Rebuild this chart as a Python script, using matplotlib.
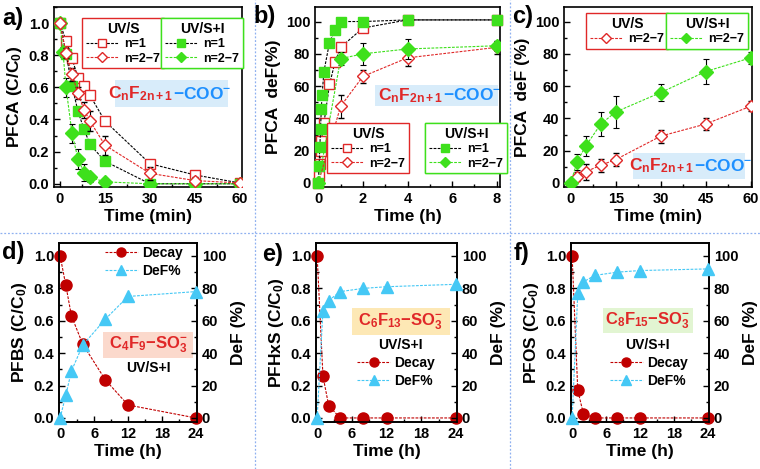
import matplotlib
matplotlib.use("Agg")
import matplotlib.pyplot as plt
from matplotlib.ticker import MultipleLocator, FormatStrFormatter
from matplotlib.patches import Rectangle
from matplotlib.lines import Line2D

plt.rcParams['font.family'] = ['Liberation Sans', 'DejaVu Sans']
plt.rcParams['font.weight'] = 'bold'
plt.rcParams['axes.labelweight'] = 'bold'
plt.rcParams['mathtext.fontset'] = 'custom'
plt.rcParams['mathtext.rm'] = 'Liberation Sans:bold'
plt.rcParams['mathtext.it'] = 'Liberation Sans:bold'
plt.rcParams['mathtext.bf'] = 'Liberation Sans:bold'

# ---- data ----
# a) PFCA decay (min)
a_t = [0, 2, 4, 6, 8, 10, 15, 30, 45, 60]
a_uvs_n1 = [1.0, 0.89, 0.78, 0.66, 0.61, 0.55, 0.39, 0.125, 0.055, 0.005]
a_uvs_n27 = [1.0, 0.815, 0.68, 0.565, 0.46, 0.39, 0.24, 0.065, 0.02, 0.005]
a_uvs_n27_err = [0, 0.03, 0.04, 0.04, 0.05, 0.06, 0.06, 0.04, 0.02, 0.01]
a_uvsi_n1 = [1.0, 0.81, 0.61, 0.45, 0.34, 0.245, 0.14, 0.0, 0.0, 0.0]
a_t2 = [0, 1, 2, 4, 6, 8, 10, 15, 30, 45, 60]
a_uvsi_n27 = [1.0, 0.82, 0.60, 0.315, 0.155, 0.07, 0.04, 0.012, 0.0, 0.0, 0.0]
a_uvsi_n27_err = [0, 0.03, 0.06, 0.06, 0.06, 0.05, 0.03, 0.01, 0, 0, 0]

# b) PFCA defluorination (h)
b_t_si1 = [0, 0.033, 0.067, 0.1, 0.133, 0.167, 0.25, 0.5, 0.75, 1, 2, 4, 8]
b_uvsi_n1 = [0, 10.5, 22.5, 33.5, 46, 54.5, 69, 87, 95, 100, 100, 101, 101]
b_t_s1 = [0, 0.033, 0.067, 0.1, 0.133, 0.25, 0.5, 0.75, 1, 2, 4, 8]
b_uvs_n1 = [0, 4.5, 12, 20, 26, 37, 61, 75, 84, 96, 101, 101]
b_t27 = [0, 1, 2, 4, 8]
b_uvs_n27 = [0, 47.5, 66, 77.5, 84]
b_uvs_n27_err = [0, 7, 4, 5, 4]
b_uvsi_n27 = [0, 77, 80, 83, 85]
b_uvsi_n27_err = [0, 4, 7, 6, 3]

# c) PFCA defluorination n=2-7 (min)
c_t = [0, 2, 5, 10, 15, 30, 45, 60]
c_uvs = [0, 4, 7, 11, 14.5, 29, 36.5, 47.5]
c_uvs_err = [0, 3, 5, 4, 4, 4, 4, 3]
c_uvsi = [0, 13, 23, 36.5, 44, 56, 69, 77.5]
c_uvsi_err = [0, 5, 6, 7.5, 10, 5.5, 7.5, 3.5]

# d-f) PFSA decay and DeF (h)
s_t = [0, 1, 2, 4, 8, 12, 24]
d_decay = [1.0, 0.82, 0.63, 0.455, 0.235, 0.08, 0.0]
d_def = [0, 14, 29, 45, 61, 75, 78]
e_decay = [1.0, 0.26, 0.075, 0.0, 0.0, 0.0, 0.0]
e_def = [0, 66, 72.5, 78, 80, 81, 82.5]
f_decay = [1.0, 0.17, 0.025, 0.0, 0.0, 0.0, 0.0]
f_def = [0, 77, 84, 88, 90, 91, 92]

RED = '#e02828'
GREEN = '#3ee01c'
DRED = '#c00000'
CYAN = '#45c8f5'
BLUE = '#1e90ff'
W, H = 760, 469

fig = plt.figure(figsize=(7.6, 4.69), dpi=100)


def rect(l, t, r, b):
    return [l / W, 1 - b / H, (r - l) / W, (b - t) / H]


def style(ax, xmaj, xmin, ymaj, ymin):
    ax.xaxis.set_major_locator(MultipleLocator(xmaj))
    ax.xaxis.set_minor_locator(MultipleLocator(xmin))
    ax.yaxis.set_major_locator(MultipleLocator(ymaj))
    ax.yaxis.set_minor_locator(MultipleLocator(ymin))
    ax.tick_params(which='both', direction='in', labelsize=10.5, width=1)
    ax.tick_params(which='major', length=4)
    ax.tick_params(which='minor', length=2)
    for s in ax.spines.values():
        s.set_linewidth(1.2)


def formula(ax, x0, x1, y0, y1, split, red_txt, blue_txt, bg, blue=BLUE):
    ax.add_patch(Rectangle((x0, y0), x1 - x0, y1 - y0, transform=ax.transAxes,
                           facecolor=bg, edgecolor='none', zorder=1))
    ym = (y0 + y1) / 2
    ax.text(split, ym, red_txt, color=RED, ha='right', va='center',
            fontsize=12.5, transform=ax.transAxes, zorder=2)
    ax.text(split, ym, blue_txt, color=blue, ha='left', va='center',
            fontsize=12.5, transform=ax.transAxes, zorder=2)


def boxed_legend(ax, handles, labels, title, color, x, y):
    leg = ax.legend(handles, labels, title=title, loc='upper left',
                    bbox_to_anchor=(x, y), borderaxespad=0, fancybox=False,
                    framealpha=1, edgecolor=color, fontsize=9,
                    title_fontsize=10, handlelength=2.6, handletextpad=0.5,
                    labelspacing=0.2, borderpad=0.3, numpoints=1)
    leg.get_frame().set_linewidth(1.0)
    leg.set_zorder(10)
    ax.add_artist(leg)
    return leg


ls = (0, (2.5, 1.2))
ekw = dict(ecolor='black', elinewidth=0.8, capsize=2.5, capthick=0.8)


def handle(color, marker, mfc, ms):
    return Line2D([], [], ls=ls, color=color, lw=0.8, marker=marker, ms=ms,
                  mfc=mfc, mec=mfc if mfc != 'white' else RED, mew=1.0)


hs_s1 = handle('black', 's', 'white', 6)
hs_s27 = handle(RED, 'D', 'white', 5)
hs_i1 = handle('black', 's', GREEN, 6)
hs_i27 = handle(GREEN, 'D', GREEN, 5.5)

MINUS = '\u2212'

# ---------- a ----------
ax = fig.add_axes(rect(54, 7, 242, 187))
ax.plot(a_t, a_uvs_n1, ls=ls, color='black', lw=0.8, marker='s', ms=7.5,
        mfc='white', mec=RED, mew=1.0, zorder=3)
ax.errorbar(a_t, a_uvs_n27, yerr=a_uvs_n27_err, ls=ls, color=RED, lw=0.8,
            marker='D', ms=6.5, mfc='white', mec=RED, mew=1.0, zorder=4, **ekw)
ax.plot(a_t, a_uvsi_n1, ls=ls, color='black', lw=0.8, marker='s', ms=7.5,
        mfc=GREEN, mec=GREEN, zorder=3)
ax.errorbar(a_t2, a_uvsi_n27, yerr=a_uvsi_n27_err, ls=ls, color=GREEN, lw=0.8,
            marker='D', ms=7, mfc=GREEN, mec=GREEN, zorder=3, **ekw)
ax.set_xlim(-2, 60.7)
ax.set_ylim(-0.02, 1.1)
style(ax, 15, 7.5, 0.2, 0.1)
ax.yaxis.set_major_formatter(FormatStrFormatter('%.1f'))
ax.set_xlabel('Time (min)', fontsize=12.5, labelpad=2)
ax.set_ylabel('PFCA (C/C$_0$)', fontsize=12.5, labelpad=3)
boxed_legend(ax, [hs_s1, hs_s27], ['n=1', 'n=2' + MINUS + '7'], 'UV/S', RED, 0.149, 0.939)
boxed_legend(ax, [hs_i1, hs_i27], ['n=1', 'n=2' + MINUS + '7'], 'UV/S+I', GREEN, 0.569, 0.939)
formula(ax, 0.324, 0.926, 0.444, 0.594, 0.633, r'C$_n$F$_{2n+1}$', MINUS + 'COO$^{-}$', '#d8ecfa')

# ---------- b ----------
ax = fig.add_axes(rect(315, 7, 500, 187))
ax.plot(b_t_s1, b_uvs_n1, ls=ls, color='black', lw=0.8, marker='s', ms=7.5,
        mfc='white', mec=RED, mew=1.0, zorder=3, clip_on=False)
ax.errorbar(b_t27, b_uvs_n27, yerr=b_uvs_n27_err, ls=ls, color=RED, lw=0.8,
            marker='D', ms=6.5, mfc='white', mec=RED, mew=1.0, zorder=4, **ekw)
ax.plot(b_t_si1, b_uvsi_n1, ls=ls, color='black', lw=0.8, marker='s', ms=6.5,
        mfc=GREEN, mec=GREEN, zorder=4, clip_on=False)
ax.errorbar(b_t27, b_uvsi_n27, yerr=b_uvsi_n27_err, ls=ls, color=GREEN, lw=0.8,
            marker='D', ms=7, mfc=GREEN, mec=GREEN, zorder=5, **ekw)
ax.set_xlim(-0.15, 8.15)
ax.set_ylim(-2.5, 109)
style(ax, 2, 1, 20, 10)
ax.set_xlabel('Time (h)', fontsize=12.5, labelpad=2)
ax.set_ylabel('PFCA  deF(%)', fontsize=12.5, labelpad=3)
boxed_legend(ax, [hs_s1, hs_s27], ['n=1', 'n=2' + MINUS + '7'], 'UV/S', RED, 0.065, 0.356)
boxed_legend(ax, [hs_i1, hs_i27], ['n=1', 'n=2' + MINUS + '7'], 'UV/S+I', GREEN, 0.595, 0.356)
formula(ax, 0.324, 0.989, 0.45, 0.567, 0.692, r'C$_n$F$_{2n+1}$', MINUS + 'COO$^{-}$', '#d8ecfa')

# ---------- c ----------
ax = fig.add_axes(rect(564, 7, 752, 187))
ax.errorbar(c_t, c_uvs, yerr=c_uvs_err, ls=ls, color=RED, lw=0.8,
            marker='D', ms=6.5, mfc='white', mec=RED, mew=1.0, zorder=4, **ekw)
ax.errorbar(c_t, c_uvsi, yerr=c_uvsi_err, ls=ls, color=GREEN, lw=0.8,
            marker='D', ms=7, mfc=GREEN, mec=GREEN, zorder=4, **ekw)
ax.set_xlim(-2.3, 60.5)
ax.set_ylim(-2.5, 109)
style(ax, 15, 7.5, 20, 10)
ax.set_xlabel('Time (min)', fontsize=12.5, labelpad=2)
ax.set_ylabel('PFCA  deF (%)', fontsize=12.5, labelpad=3)
boxed_legend(ax, [hs_s27], ['n=2' + MINUS + '7'], 'UV/S', RED, 0.117, 0.967)
boxed_legend(ax, [hs_i27], ['n=2' + MINUS + '7'], 'UV/S+I', GREEN, 0.543, 0.967)
formula(ax, 0.367, 0.963, 0.044, 0.189, 0.691, r'C$_n$F$_{2n+1}$', MINUS + 'COO$^{-}$', '#d8ecfa')

# ---------- d-f ----------
panels = [
    (rect(59, 243, 197, 422), d_decay, d_def, 'PFBS (C/C$_0$)', 'C$_4$F$_9$' + MINUS + 'SO$_3^{-}$',
     '#fbd9cc', (0.32, 0.97, 0.358, 0.503, 0.645), 0.30, (0.33, 0.985)),
    (rect(316, 243, 457, 422), e_decay, e_def, 'PFHxS (C/C$_0$)', 'C$_6$F$_{13}$' + MINUS + 'SO$_3^{-}$',
     '#fde8b5', (0.255, 0.95, 0.486, 0.637, 0.60), 0.43, (0.29, 0.37)),
    (rect(571, 243, 709, 422), f_decay, f_def, 'PFOS (C/C$_0$)', 'C$_8$F$_{15}$' + MINUS + 'SO$_3^{-}$',
     '#e2f5d2', (0.232, 0.884, 0.497, 0.637, 0.555), 0.43, (0.28, 0.37)),
]
for r, dec, dfv, ylab, ftxt, bg, box, uy, legpos in panels:
    ax = fig.add_axes(r)
    ax2 = ax.twinx()
    ax.plot(s_t, dec, ls=ls, color=DRED, lw=0.8, marker='o', ms=8,
            mfc=DRED, mec=DRED, zorder=3, clip_on=False)
    ax2.plot(s_t, dfv, ls=ls, color=CYAN, lw=0.8, marker='^', ms=8,
             mfc=CYAN, mec=CYAN, zorder=3, clip_on=False)
    ax.set_xlim(-0.2, 24.2)
    ax.set_ylim(-0.025, 1.08)
    ax2.set_ylim(-2.5, 108)
    style(ax, 6, 3, 0.2, 0.1)
    style(ax2, 6, 3, 20, 10)
    ax.yaxis.set_major_formatter(FormatStrFormatter('%.1f'))
    ax.set_xlabel('Time (h)', fontsize=12.5, labelpad=2)
    ax.set_ylabel(ylab, fontsize=12.5, labelpad=3)
    ax2.set_ylabel('DeF (%)', fontsize=12.5, labelpad=3)
    x0, x1, y0, y1, xc = box
    ax2.add_patch(Rectangle((x0, y0), x1 - x0, y1 - y0, transform=ax2.transAxes,
                            facecolor=bg, edgecolor='none', zorder=1))
    ax2.text(xc, (y0 + y1) / 2, ftxt, color=RED, ha='center', va='center',
             fontsize=12, transform=ax2.transAxes, zorder=2)
    ax2.text(xc, uy, 'UV/S+I', ha='center', va='center', fontsize=10,
             transform=ax2.transAxes, zorder=2)
    hd_l = Line2D([], [], ls=ls, color=DRED, lw=0.8, marker='o', ms=6.5, mfc=DRED, mec=DRED)
    hf_l = Line2D([], [], ls=ls, color=CYAN, lw=0.8, marker='^', ms=6.5, mfc=CYAN, mec=CYAN)
    ax2.legend([hd_l, hf_l], ['Decay', 'DeF%'], loc='upper left',
               bbox_to_anchor=legpos, frameon=False, fontsize=10,
               handlelength=2.4, handletextpad=0.3, labelspacing=0.3,
               borderaxespad=0, borderpad=0, numpoints=1)

# panel letters
for lab, x, y in [('a)', 2, 18), ('b)', 253, 16), ('c)', 512, 17),
                  ('d)', 2, 252), ('e)', 262, 254), ('f)', 514, 253)]:
    fig.text(x / W, 1 - y / H, lab, fontsize=17, fontweight='bold', va='center', ha='left')

# dotted separators
sep = dict(color='#8fb0f0', lw=0.9, ls=(0, (1.5, 1.5)), transform=fig.transFigure)
fig.add_artist(Line2D([255 / W, 255 / W], [0, 1], **sep))
fig.add_artist(Line2D([510 / W, 510 / W], [0, 1], **sep))
fig.add_artist(Line2D([0, 1], [1 - 233 / H, 1 - 233 / H], **sep))

fig.savefig('out.png', dpi=100)
